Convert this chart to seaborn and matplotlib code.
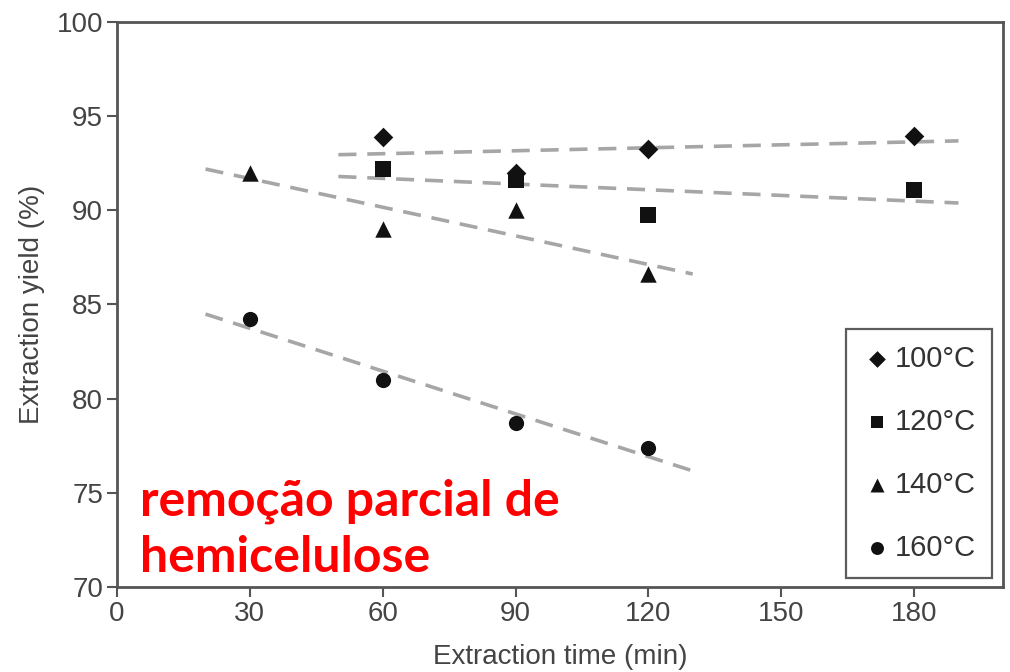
import matplotlib
matplotlib.use('Agg')
import matplotlib.pyplot as plt
import numpy as np
import pandas as pd
import seaborn as sns

# Data
series_labels = ['100°C', '120°C', '140°C', '160°C']
times_100 = [60, 90, 120, 180]
yield_100 = [93.9, 92.0, 93.25, 93.95]
times_120 = [60, 90, 120, 180]
yield_120 = [92.2, 91.6, 89.75, 91.1]
times_140 = [30, 60, 90, 120]
yield_140 = [92.0, 89.0, 90.0, 86.6]
times_160 = [30, 60, 90, 120]
yield_160 = [84.2, 81.0, 78.7, 77.4]
# x range covered by each dashed trend line
trend_ranges = [(50, 190), (50, 190), (20, 130), (20, 130)]

x_ticks = [0, 30, 60, 90, 120, 150, 180]
y_ticks = [70, 75, 80, 85, 90, 95, 100]

all_times = [times_100, times_120, times_140, times_160]
all_yields = [yield_100, yield_120, yield_140, yield_160]
df = pd.DataFrame({
    'time': sum(all_times, []),
    'yield': sum(all_yields, []),
    'temp': sum([[lab] * len(t) for lab, t in zip(series_labels, all_times)], []),
})

sns.set_style('white')
plt.rcParams['font.family'] = ['Liberation Sans', 'DejaVu Sans']

fig = plt.figure(figsize=(10.1, 6.72), dpi=100)
ax = fig.add_axes([0.1158, 0.1265, 0.877, 0.841])

# Dashed linear trend lines
for (t, y), (x0, x1) in zip(zip(all_times, all_yields), trend_ranges):
    slope, icpt = np.polyfit(t, y, 1)
    xs = np.array([x0, x1])
    ax.plot(xs, slope * xs + icpt, color='#a6a6a6', lw=2.6, ls=(0, (5, 3)), zorder=1)

markers = {'100°C': 'D', '120°C': 's', '140°C': '^', '160°C': 'o'}
sizes = {'100°C': 100, '120°C': 120, '140°C': 140, '160°C': 120}
for lab in series_labels:
    sub = df[df.temp == lab]
    sns.scatterplot(data=sub, x='time', y='yield', marker=markers[lab], s=sizes[lab],
                    color='#111111', edgecolor='#111111', linewidth=0, ax=ax,
                    label=lab, zorder=3)

ax.set_xlim(0, 200)
ax.set_ylim(70, 100)
ax.set_xticks(x_ticks)
ax.set_yticks(y_ticks)
ax.tick_params(axis='both', direction='out', length=7, width=1.5, color='#555555',
               labelsize=20, labelcolor='#444444', bottom=True, left=True, pad=3)
for sp in ax.spines.values():
    sp.set_color('#555555')
    sp.set_linewidth(2)

ax.set_xlabel('Extraction time (min)', fontsize=20, color='#444444', labelpad=12)
ax.set_ylabel('Extraction yield (%)', fontsize=20, color='#444444', labelpad=8)

leg = ax.legend(loc='lower right', bbox_to_anchor=(0.9876, 0.016), fontsize=21,
                frameon=True, fancybox=False, edgecolor='#333333', labelspacing=1.2,
                handletextpad=0.1, handlelength=1.0, borderpad=0.55, markerscale=0.85,
                borderaxespad=0)
leg.get_frame().set_linewidth(1.6)
for txt in leg.get_texts():
    txt.set_color('#333333')

ax.text(0.026, 0.012, 'remoção parcial de\nhemicelulose', transform=ax.transAxes,
        fontsize=36, fontweight='bold', color='#ff0000', family=['Lato', 'DejaVu Sans'],
        ha='left', va='bottom', linespacing=1.3)

fig.savefig('out.png', dpi=100)
